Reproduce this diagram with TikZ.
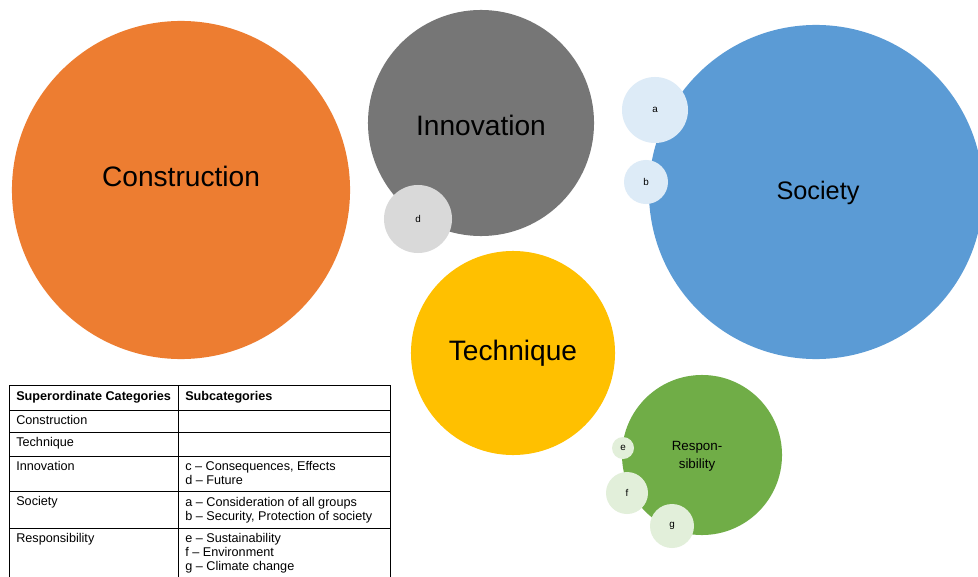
\documentclass[tikz,border=0pt]{standalone}
\usepackage{fontspec}
\setmainfont{Liberation Sans}
\usepackage{tikz}
\usetikzlibrary{positioning}

\definecolor{constrorange}{HTML}{ED7D31}
\definecolor{innovgray}{HTML}{767676}
\definecolor{socblue}{HTML}{5B9BD5}
\definecolor{techyellow}{HTML}{FFC000}
\definecolor{respgreen}{HTML}{70AD47}
\definecolor{lightblue}{HTML}{DDEBF7}
\definecolor{lightgray}{HTML}{D9D9D9}
\definecolor{lightgreen}{HTML}{E2EFDA}

\tikzset{
  bubble/.style={circle, inner sep=0pt, draw=none},
  bigtext/.style={font=\fontsize{20}{24}\selectfont},
  subbubble/.style={bubble, font=\fontsize{7}{8}\selectfont},
  cell/.style={anchor=west, inner sep=0pt, font=\fontsize{9}{10}\selectfont, align=left}
}

\begin{document}
\begin{tikzpicture}[x=0.025cm, y=-0.025cm]
    \useasboundingbox[fill=white] (0,0) rectangle (978,577);
    \clip (0,0) rectangle (978,577);

    % main categories
    \node[bubble, fill=constrorange, minimum size=8.45cm] (constr) at (181,190) {};
    \node[bigtext] (constrlabel) at (181,176) {Construction};
    \node[bubble, fill=innovgray, minimum size=5.65cm] (innov) at (481,123) {};
    \node[bigtext] (innovlabel) at (481,125) {Innovation};
    \node[bubble, fill=socblue, minimum size=8.35cm] (soc) at (816,192) {};
    \node[font=\fontsize{18}{22}\selectfont] (soclabel) at (818,193) {Society};
    \node[bubble, bigtext, fill=techyellow, minimum size=5.1cm] (tech) at (513,353) {Technique};
    \node[bubble, fill=respgreen, minimum size=4cm] (resp) at (702,455) {};
    \node[align=center, font=\fontsize{9.5}{12.5}\selectfont] (resplabel) at (697,456) {Respon-\\sibility};

    % subcategories
    \node[subbubble, fill=lightgray, minimum size=1.7cm] (d) at (418,219) {d};
    \node[subbubble, fill=lightblue, minimum size=1.65cm] (a) at (655,110) {a};
    \node[subbubble, fill=lightblue, minimum size=1.1cm] (b) at (646,182) {b};
    \node[subbubble, fill=lightgreen, minimum size=0.55cm] (e) at (623,448) {e};
    \node[subbubble, fill=lightgreen, minimum size=1.05cm] (f) at (627,493) {f};
    \node[subbubble, fill=lightgreen, minimum size=1.1cm] (g) at (672,526) {g};

    % table
    \draw[line width=0.6pt] (9,385) rectangle (390,600);
    \draw[line width=0.6pt] (178,385) -- (178,600);
    \foreach \y in {410,432,456,491,528}
        \draw[line width=0.6pt] (9,\y) -- (390,\y);

    \node[cell, font=\fontsize{9}{10}\selectfont\bfseries] (hsup) at (16,397) {Superordinate Categories};
    \node[cell, font=\fontsize{9}{10}\selectfont\bfseries] (hsub) at (185,397) {Subcategories};
    \node[cell] (rconstr) at (16,420) {Construction};
    \node[cell] (rtech) at (16,443) {Technique};
    \node[cell] (rinnov) at (16,466) {Innovation};
    \node[cell] (rsoc) at (16,502) {Society};
    \node[cell] (rresp) at (16,539) {Responsibility};
    \node[cell, anchor=north west] (sinnov) at (185,461) {c -- Consequences, Effects\\d -- Future};
    \node[cell, anchor=north west] (ssoc) at (185,497) {a -- Consideration of all groups\\b -- Security, Protection of society};
    \node[cell, anchor=north west] (sresp) at (185,533) {e -- Sustainability\\f -- Environment\\g -- Climate change};
\end{tikzpicture}
\end{document}
